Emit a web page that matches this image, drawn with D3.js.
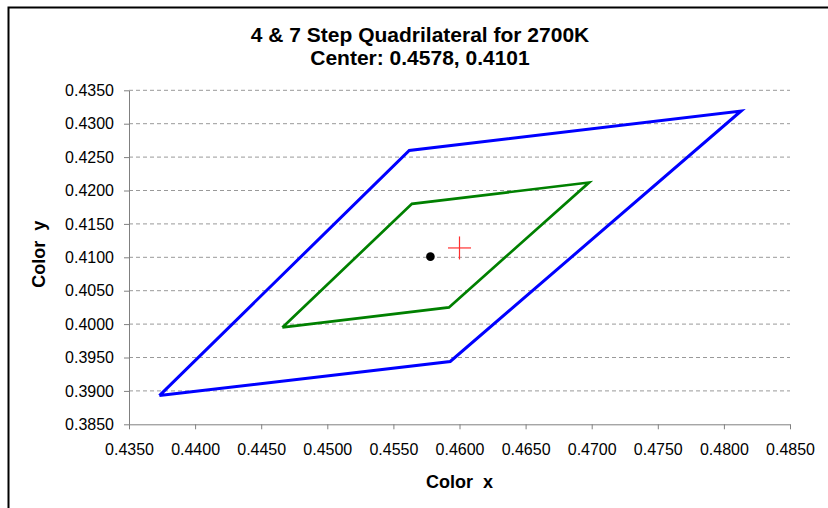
<!DOCTYPE html>
<html>
<head>
<meta charset="utf-8">
<script src="https://cdn.jsdelivr.net/npm/d3@7"></script>
<style>
    body { margin: 0; background: #fff; }
    svg { display: block; font-family: "Liberation Sans", Arial, sans-serif; }
    .tick-label { font-size: 16px; fill: #000; }
    .axis-title { font-size: 18px; font-weight: bold; white-space: pre; }
    .title { font-size: 21px; font-weight: bold; }
</style>
</head>
<body>
<div id="chart"></div>
<script>

// Data ///////////////////////////////////////////////////////////////////////

const titleLines = ["4 & 7 Step Quadrilateral for 2700K", "Center: 0.4578, 0.4101"];

// 7-step quadrangle (closed)
const step7X = [0.4373, 0.4562, 0.4813, 0.4593, 0.4373];
const step7Y = [0.3893, 0.4260, 0.4319, 0.3944, 0.3893];

// 4-step quadrangle (closed)
const step4X = [0.4466, 0.4564, 0.4698, 0.4592, 0.4466];
const step4Y = [0.3995, 0.4180, 0.4212, 0.4025, 0.3995];

const center = [0.4578, 0.4101];
const measured = [0.4600, 0.4114];

const xTicks = [0.4350, 0.4400, 0.4450, 0.4500, 0.4550, 0.4600, 0.4650, 0.4700, 0.4750, 0.4800, 0.4850];
const yTicks = [0.3850, 0.3900, 0.3950, 0.4000, 0.4050, 0.4100, 0.4150, 0.4200, 0.4250, 0.4300, 0.4350];


// Layout /////////////////////////////////////////////////////////////////////

const params = {
    width: 828,
    height: 508,
    left: 129,
    right: 790,
    top: 90.3,
    bottom: 424.3
};

const svg = d3.select("#chart")
    .append("svg")
        .attr("width", params.width)
        .attr("height", params.height)
        .attr("viewBox", [0, 0, params.width, params.height]);

// Outer frame, runs off the right and bottom edges
svg.append("rect")
    .attr("x", 8.5)
    .attr("y", 7.5)
    .attr("width", params.width + 20)
    .attr("height", params.height + 20)
    .attr("fill", "#fff")
    .attr("stroke", "#000")
    .attr("stroke-width", 2);

const x = d3.scaleLinear()
    .domain([0.435, 0.485])
    .range([params.left, params.right]);

const y = d3.scaleLinear()
    .domain([0.385, 0.435])
    .range([params.bottom, params.top]);

const fmt = d3.format(".4f");


// Grid ///////////////////////////////////////////////////////////////////////

svg.append("g")
    .selectAll("line")
    .data(yTicks.slice(1))
    .join("line")
        .attr("x1", params.left)
        .attr("x2", params.right)
        .attr("y1", d => y(d))
        .attr("y2", d => y(d))
        .attr("stroke", "#999")
        .attr("stroke-dasharray", "4,3");


// Axes ///////////////////////////////////////////////////////////////////////

const xAxis = svg.append("g")
    .attr("transform", `translate(0, ${params.bottom})`)
    .call(d3.axisBottom(x).tickValues(xTicks).tickFormat(fmt).tickSize(5).tickSizeOuter(0).tickPadding(14));

const yAxis = svg.append("g")
    .attr("transform", `translate(${params.left}, 0)`)
    .call(d3.axisLeft(y).tickValues(yTicks).tickFormat(fmt).tickSize(5).tickSizeOuter(0).tickPadding(10));

[xAxis, yAxis].forEach(a => {
    a.attr("font-family", null).attr("font-size", null);
    a.select(".domain").attr("stroke", "#808080");
    a.selectAll(".tick line").attr("stroke", "#808080");
    a.selectAll(".tick text").attr("class", "tick-label").attr("fill", "#000");
});

svg.append("text")
    .attr("class", "axis-title")
    .attr("x", (params.left + params.right) / 2)
    .attr("y", 488)
    .attr("text-anchor", "middle")
    .text("Color  x");

svg.append("text")
    .attr("class", "axis-title")
    .attr("transform", `translate(45, ${(params.top + params.bottom) / 2 - 3}) rotate(-90)`)
    .attr("text-anchor", "middle")
    .text("Color  y");


// Title //////////////////////////////////////////////////////////////////////

svg.append("g")
    .selectAll("text")
    .data(titleLines)
    .join("text")
        .attr("class", "title")
        .attr("x", 420)
        .attr("y", (d, i) => 42 + i * 23)
        .attr("text-anchor", "middle")
        .text(d => d);


// Series /////////////////////////////////////////////////////////////////////

const line = d3.line()
    .x(d => x(d[0]))
    .y(d => y(d[1]));

svg.append("path")
    .datum(d3.zip(step7X, step7Y))
    .attr("d", line)
    .attr("fill", "none")
    .attr("stroke", "#0000ff")
    .attr("stroke-width", 3)
    .attr("stroke-linejoin", "miter");

svg.append("path")
    .datum(d3.zip(step4X, step4Y))
    .attr("d", line)
    .attr("fill", "none")
    .attr("stroke", "#008000")
    .attr("stroke-width", 2.7)
    .attr("stroke-linejoin", "miter");

svg.append("circle")
    .attr("cx", x(center[0]))
    .attr("cy", y(center[1]))
    .attr("r", 4.3)
    .attr("fill", "#000");

const cross = svg.append("g")
    .attr("transform", `translate(${x(measured[0])}, ${y(measured[1])})`)
    .attr("stroke", "#ff3030")
    .attr("stroke-width", 1.2);

cross.append("line").attr("x1", -11.5).attr("x2", 11.5);
cross.append("line").attr("y1", -11.5).attr("y2", 11.5);

</script>
</body>
</html>
